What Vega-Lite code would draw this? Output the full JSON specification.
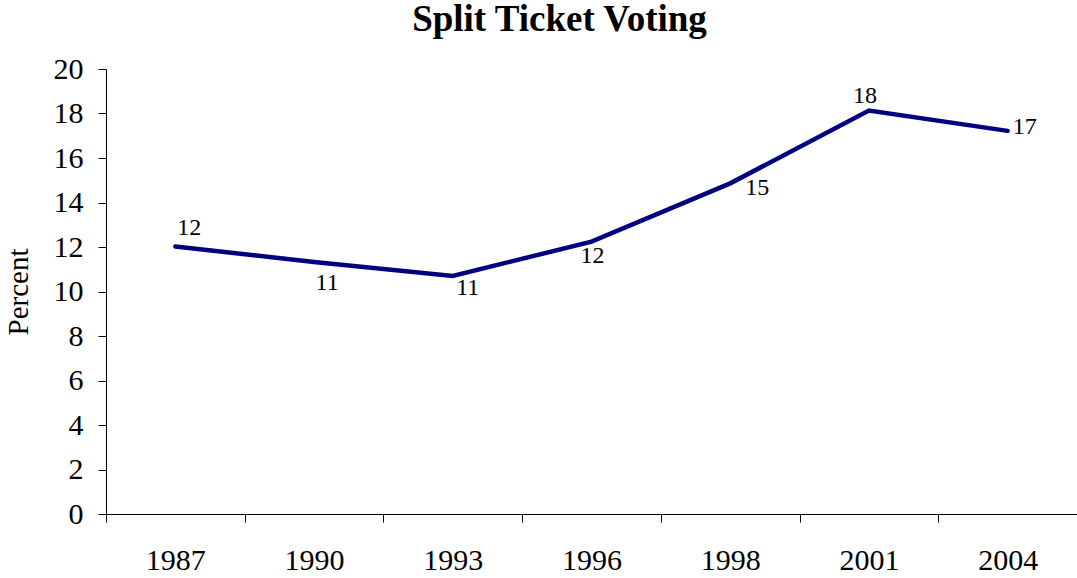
{
  "$schema": "https://vega.github.io/schema/vega-lite/v6.json",
  "autosize": "none",
  "width": 971,
  "height": 445,
  "padding": {"left": 106, "top": 69, "right": 0, "bottom": 64},
  "background": "white",
  "title": {
    "text": "Split Ticket Voting",
    "font": "Liberation Serif",
    "fontSize": 37,
    "fontWeight": "bold",
    "color": "black",
    "anchor": "middle",
    "frame": "group",
    "dx": -32,
    "offset": 15
  },
  "config": {
    "view": {"stroke": null},
    "axis": {
      "labelFont": "Liberation Serif",
      "titleFont": "Liberation Serif",
      "labelColor": "black",
      "titleColor": "black",
      "domainColor": "black",
      "tickColor": "black",
      "grid": false
    }
  },
  "data": {
    "values": [
      {"year": "1987", "pct": 12.02},
      {"year": "1990", "pct": 11.33},
      {"year": "1993", "pct": 10.7},
      {"year": "1996", "pct": 12.24},
      {"year": "1998", "pct": 14.86},
      {"year": "2001", "pct": 18.13},
      {"year": "2004", "pct": 17.22}
    ]
  },
  "encoding": {
    "x": {
      "field": "year",
      "type": "ordinal",
      "bandPosition": 0.5,
      "scale": {"type": "band", "paddingInner": 0, "paddingOuter": 0},
      "axis": {
        "title": null,
        "labelAngle": 0,
        "labelFontSize": 30,
        "labelPadding": 23,
        "tickBand": "extent",
        "tickSize": 8,
        "domainWidth": 1,
        "tickWidth": 1
      }
    },
    "y": {
      "field": "pct",
      "type": "quantitative",
      "scale": {"domain": [0, 20], "nice": false},
      "axis": {
        "title": "Percent",
        "titleFontSize": 29,
        "titleFontWeight": "normal",
        "titleX": -88,
        "titleBaseline": "middle",
        "values": [0, 2, 4, 6, 8, 10, 12, 14, 16, 18, 20],
        "labelFontSize": 30,
        "labelPadding": 15,
        "tickSize": 8,
        "domainWidth": 1,
        "tickWidth": 1
      }
    }
  },
  "layer": [
    {
      "mark": {"type": "line", "color": "#000080", "strokeWidth": 4.5, "strokeCap": "round", "strokeJoin": "miter"}
    },
    {
      "transform": [{"filter": "datum.year == '1987'"}],
      "mark": {"type": "text", "font": "Liberation Serif", "fontSize": 24, "color": "black", "align": "center", "baseline": "middle", "dx": 14, "dy": -19},
      "encoding": {"text": {"field": "pct", "type": "quantitative", "format": ".0f"}}
    },
    {
      "transform": [{"filter": "datum.year == '1990'"}],
      "mark": {"type": "text", "font": "Liberation Serif", "fontSize": 24, "color": "black", "align": "center", "baseline": "middle", "dx": 13, "dy": 21},
      "encoding": {"text": {"field": "pct", "type": "quantitative", "format": ".0f"}}
    },
    {
      "transform": [{"filter": "datum.year == '1993'"}],
      "mark": {"type": "text", "font": "Liberation Serif", "fontSize": 24, "color": "black", "align": "center", "baseline": "middle", "dx": 15, "dy": 12},
      "encoding": {"text": {"field": "pct", "type": "quantitative", "format": ".0f"}}
    },
    {
      "transform": [{"filter": "datum.year == '1996'"}],
      "mark": {"type": "text", "font": "Liberation Serif", "fontSize": 24, "color": "black", "align": "center", "baseline": "middle", "dx": 1, "dy": 14},
      "encoding": {"text": {"field": "pct", "type": "quantitative", "format": ".0f"}}
    },
    {
      "transform": [{"filter": "datum.year == '1998'"}],
      "mark": {"type": "text", "font": "Liberation Serif", "fontSize": 24, "color": "black", "align": "center", "baseline": "middle", "dx": 27, "dy": 5},
      "encoding": {"text": {"field": "pct", "type": "quantitative", "format": ".0f"}}
    },
    {
      "transform": [{"filter": "datum.year == '2001'"}],
      "mark": {"type": "text", "font": "Liberation Serif", "fontSize": 24, "color": "black", "align": "center", "baseline": "middle", "dx": -4, "dy": -15},
      "encoding": {"text": {"field": "pct", "type": "quantitative", "format": ".0f"}}
    },
    {
      "transform": [{"filter": "datum.year == '2004'"}],
      "mark": {"type": "text", "font": "Liberation Serif", "fontSize": 24, "color": "black", "align": "center", "baseline": "middle", "dx": 17, "dy": -4},
      "encoding": {"text": {"field": "pct", "type": "quantitative", "format": ".0f"}}
    }
  ]
}
